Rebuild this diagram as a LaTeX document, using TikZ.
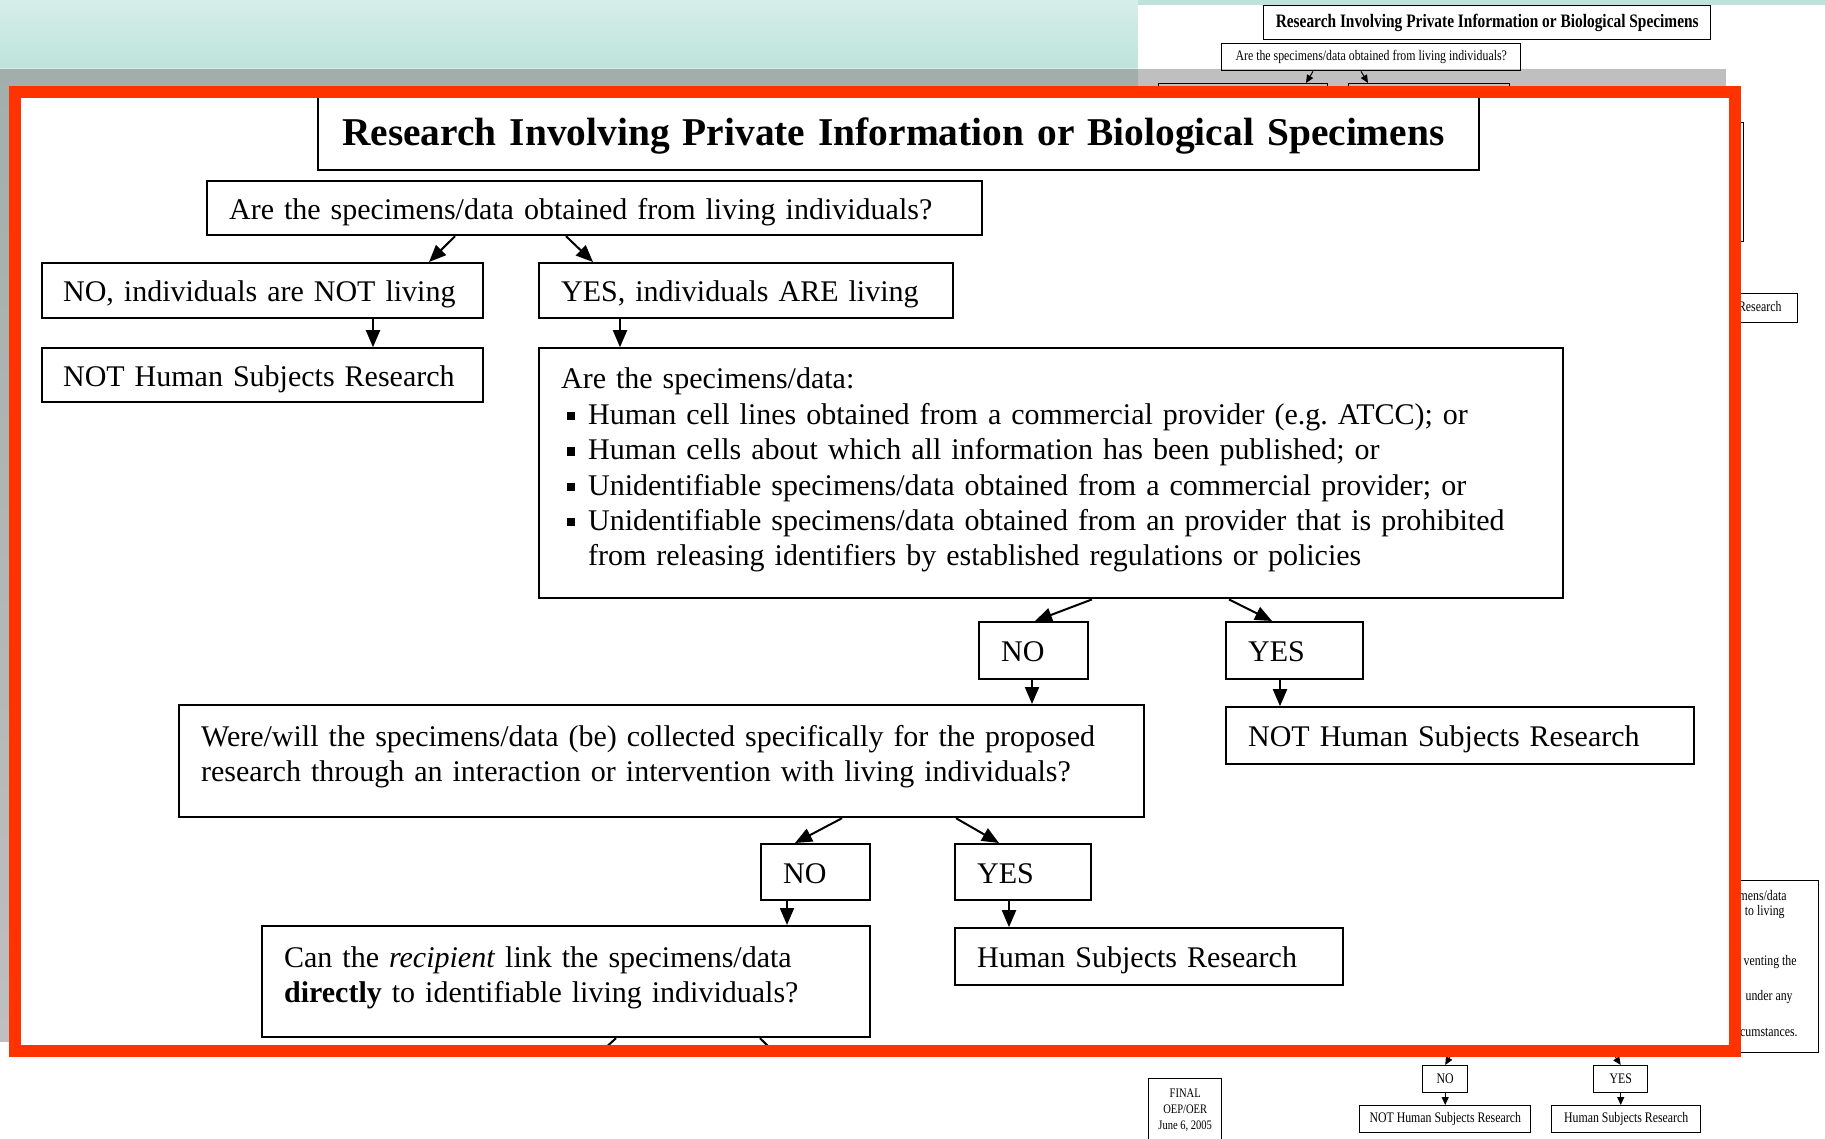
\documentclass[tikz,border=0pt]{standalone}
\usepackage{fontspec}
\setmainfont{Liberation Serif}
\usetikzlibrary{positioning,arrows.meta,calc}
\frenchspacing

\definecolor{framered}{HTML}{FF3300}
\definecolor{slideteal}{HTML}{BEE3DB}
\definecolor{slidetop}{HTML}{D6EEE9}
\definecolor{slidefade}{HTML}{D8EAE5}

\newcommand{\bul}{\hspace*{3pt}\rule[2pt]{3.8pt}{4.2pt}\hspace{6.7pt}}
\newcommand{\narrow}[1]{\scalebox{0.81}[1]{#1}}

\tikzset{
  box/.style={draw, line width=1.1pt, anchor=north west, align=left,
    inner xsep=11pt, inner ysep=0pt, text height=14pt, text depth=3pt,
    font=\fontsize{15}{17.7}\selectfont},
  tbox/.style={draw, line width=0.7pt, anchor=north west, inner sep=0pt,
    font=\fontsize{7.3}{8}\selectfont},
  tarr/.style={-{Triangle[length=4pt, width=3.5pt]}, line width=0.5pt},
  tfrag/.style={anchor=east, inner sep=0pt, font=\fontsize{7.3}{8}\selectfont},
}

\begin{document}
\begin{tikzpicture}[x=0.5pt, y=-0.5pt, > = {Triangle[length=8.5pt, width=7pt]}]
\useasboundingbox (0,0) rectangle (1825,1139);

% slide behind the zoomed view
\shade[top color=slidetop, bottom color=slideteal] (0,0) rectangle (1138,69);
\fill[slideteal] (1138,0) rectangle (1825,5);
\fill[white] (1138,5) rectangle (1825,1139);
\shade[top color=slidefade, bottom color=white] (0,69) rectangle (1138,1042);

% small page
\node (ttitle) [tbox, minimum width=223.5pt, minimum height=17pt, font=\fontsize{9.5}{10}\selectfont\bfseries] at (1263,5) {\narrow{Research Involving Private Information or Biological Specimens}};
\node (tquest) [tbox, minimum width=149.5pt, minimum height=13.5pt] at (1221,43) {\narrow{Are the specimens/data obtained from living individuals?}};
\node (tnolive) [tbox, minimum width=84.5pt, minimum height=13.5pt] at (1158,83) {\narrow{NO, individuals are NOT living}};
\node (tyeslive) [tbox, minimum width=80.5pt, minimum height=13.5pt] at (1348,83) {\narrow{YES, individuals ARE living}};
\node (tcrit) [tbox, minimum width=197.5pt, minimum height=59.5pt] at (1348,122) {};
\node (tnothsr) [tbox, minimum width=92pt, minimum height=14.5pt] at (1613,293) {\narrow{NOT Human Subjects Research}};
\node (tagree) [tbox, minimum width=129pt, minimum height=86pt] at (1560,880) {};
\node (tfraga) [tfrag] at (1787,895) {\narrow{mens/data}};
\node (tfragb) [tfrag] at (1785,912) {\narrow{to living}};
\node (tfragc) [tfrag] at (1797,962) {\narrow{venting the}};
\node (tfragd) [tfrag] at (1793,997) {\narrow{under any}};
\node (tfrage) [tfrag] at (1798,1032) {\narrow{cumstances.}};
\node (tno) [tbox, minimum width=22.5pt, minimum height=13.5pt] at (1422,1065) {\narrow{NO}};
\node (tyes) [tbox, minimum width=27pt, minimum height=13.5pt] at (1593,1065) {\narrow{YES}};
\node (tnot) [tbox, minimum width=85.5pt, minimum height=13.5pt] at (1359,1105) {\narrow{NOT Human Subjects Research}};
\node (thsr) [tbox, minimum width=74.5pt, minimum height=13.5pt] at (1551,1105) {\narrow{Human Subjects Research}};
\node (tfinal) [tbox, minimum width=36.5pt, minimum height=31pt, align=center, font=\fontsize{6.5}{8}\selectfont] at (1148,1078) {\narrow{FINAL}\\\narrow{OEP/OER}\\\narrow{June 6, 2005}};
\coordinate (tupno) at (1456,1046);
\coordinate (tupyes) at (1608,1046);

\draw[tarr] ($(tquest.south west)+(92,0)$) -- ($(tnolive.north west)+(148,0)$);
\draw[tarr] ($(tquest.south west)+(140,0)$) -- ($(tyeslive.north west)+(20,0)$);
\draw[tarr] (tupno) -- (tno.north);
\draw[tarr] (tupyes) -- (tyes.north);
\draw[tarr] (tno.south) -- (tno.south |- tnot.north);
\draw[tarr] (tyes.south) -- (tyes.south |- thsr.north);

% shadow and zoom frame
\fill[black, opacity=0.25] (0,69) rectangle (1726,1042);
\fill[white] (15,92) rectangle (1735,1051);

\node (title) [box, inner xsep=12pt, text width=556.5pt, minimum height=36.5pt, text height=17pt, text depth=5.5pt, font=\fontsize{19.7}{22}\selectfont\bfseries] at (317,96) {Research Involving Private Information or Biological Specimens};
\node (quest) [box, text width=365.5pt, minimum height=27pt] at (206,180) {Are the specimens/data obtained from living individuals?};
\node (nolive) [box, inner xsep=10.5pt, text width=199.5pt, minimum height=27.5pt] at (41,262) {NO, individuals are NOT living};
\node (yeslive) [box, text width=185pt, minimum height=27.5pt] at (538,262) {YES, individuals ARE living};
\node (nothsr) [box, inner xsep=10.5pt, text width=199.5pt, minimum height=27pt, below=14pt of nolive.south west, anchor=north west] {NOT Human Subjects Research};
\node (crit) [box, text width=490pt, minimum height=125pt, text height=10.5pt, text depth=95pt, below=14pt of yeslive.south west, anchor=north west] {Are the specimens/data:\\
  \bul Human cell lines obtained from a commercial provider (e.g. ATCC); or\\
  \bul Human cells about which all information has been published; or\\
  \bul Unidentifiable specimens/data obtained from a commercial provider; or\\
  \bul Unidentifiable specimens/data obtained from an provider that is prohibited\\
  \hspace*{13.5pt}from releasing identifiers by established regulations or policies};
\node (nocrit) [box, text width=32.5pt, minimum height=28.5pt] at (978,621) {NO};
\node (yescrit) [box, text width=46.5pt, minimum height=28.5pt] at (1225,621) {YES};
\node (collect) [box, text width=460.5pt, minimum height=56pt, text height=10.5pt, text depth=25.5pt] at (178,704) {Were/will the specimens/data (be) collected specifically for the proposed\\
  research through an interaction or intervention with living individuals?};
\node (nothsrb) [box, text width=212pt, minimum height=28.5pt, below=13pt of yescrit.south west, anchor=north west] {NOT Human Subjects Research};
\node (nocoll) [box, text width=32.5pt, minimum height=28pt] at (760,843) {NO};
\node (yescoll) [box, text width=46pt, minimum height=28pt] at (954,843) {YES};
\node (link) [box, text width=282pt, minimum height=55.5pt, text height=10.5pt, text depth=25pt] at (261,925) {Can the \textit{recipient} link the specimens/data\\
  \textbf{directly} to identifiable living individuals?};
\node (hsr) [box, text width=172pt, minimum height=28.5pt, below=13pt of yescoll.south west, anchor=north west] {Human Subjects Research};
\coordinate (linkno) at (603,1050);
\coordinate (linkyes) at (772,1050);

\draw[->, line width=1pt] ($(quest.south west)+(249,0)$) -- ($(nolive.north west)+(388,0)$);
\draw[->, line width=1pt] ($(quest.south west)+(360,0)$) -- ($(yeslive.north west)+(55,0)$);
\draw[->, line width=1pt] ($(nolive.south west)+(332,0)$) -- ($(nothsr.north west)+(332,0)$);
\draw[->, line width=1pt] ($(yeslive.south west)+(82,0)$) -- ($(crit.north west)+(82,0)$);
\draw[->, line width=1pt] ($(crit.south west)+(554,0)$) -- ($(nocrit.north west)+(57,0)$);
\draw[->, line width=1pt] ($(crit.south west)+(691,0)$) -- ($(yescrit.north west)+(47,0)$);
\draw[->, line width=1pt] ($(nocrit.south west)+(54,0)$) -- ($(collect.north west)+(854,0)$);
\draw[->, line width=1pt] ($(yescrit.south west)+(55,0)$) -- ($(nothsrb.north west)+(55,0)$);
\draw[->, line width=1pt] ($(collect.south west)+(664,0)$) -- ($(nocoll.north west)+(35,0)$);
\draw[->, line width=1pt] ($(collect.south west)+(778,0)$) -- ($(yescoll.north west)+(45,0)$);
\draw[->, line width=1pt] ($(nocoll.south west)+(27,0)$) -- ($(link.north west)+(526,0)$);
\draw[->, line width=1pt] ($(yescoll.south west)+(55,0)$) -- ($(hsr.north west)+(55,0)$);
\draw[line width=1pt] ($(link.south west)+(355,0)$) -- (linkno);
\draw[line width=1pt] ($(link.south west)+(499,0)$) -- (linkyes);

\draw[framered, line width=6pt] (15,92) rectangle (1735,1051);
\end{tikzpicture}
\end{document}
